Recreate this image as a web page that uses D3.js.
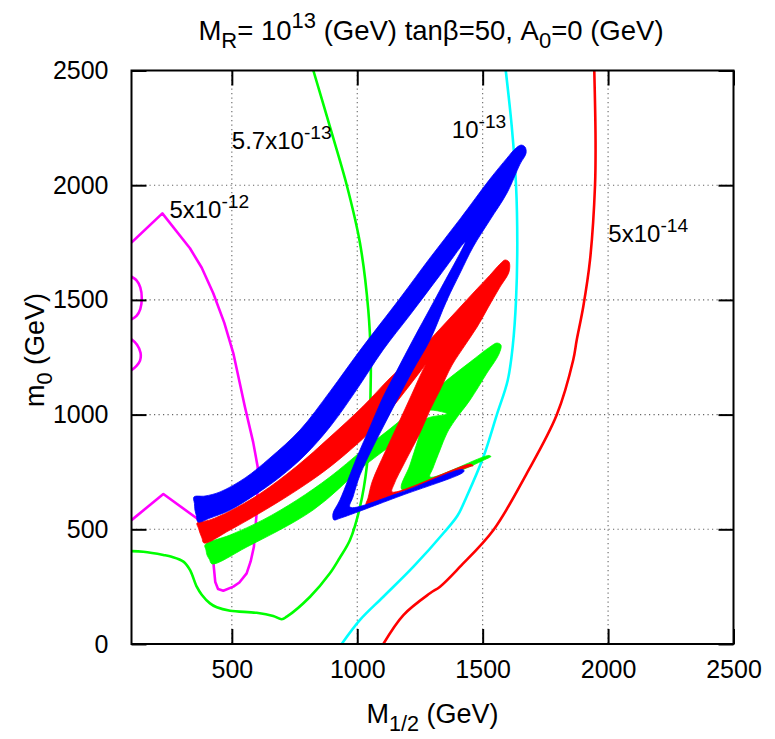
<!DOCTYPE html>
<html>
<head>
<meta charset="utf-8">
<script src="https://cdn.jsdelivr.net/npm/d3@7"></script>
<style>
  body { margin: 0; background: #fff; }
  text { font-family: "Liberation Sans", Arial, Helvetica, sans-serif; fill: #000; }
</style>
</head>
<body>
<div id="chart"></div>
<script>
// ---- data (M1/2 in GeV, m0 in GeV) ----
const xTicks = [500, 1000, 1500, 2000, 2500];
const yTicks = [0, 500, 1000, 1500, 2000, 2500];
const gridX = [500, 1000, 1500, 2000];
const gridY = [500, 1000, 1500, 2000];

// contour 5x10^-12 (magenta)
const magentaMain = [
  [100, 1750], [223, 1877], [333, 1725], [380, 1640], [426, 1529], [470, 1400], [506, 1267],
  [552, 1034], [585, 880], [603, 773], [603, 680], [598, 560], [588, 424], [575, 360], [559, 308],
  [530, 268], [506, 250], [466, 232], [445, 240], [434, 270], [428, 337], [422, 420], [413, 497],
  [360, 548], [227, 654], [100, 540]
];
const magentaLobeA = [[100, 1601], [120, 1585], [135, 1555], [141, 1507], [135, 1460], [120, 1430], [100, 1415]];
const magentaLobeB = [[100, 1328], [122, 1305], [136, 1270], [134, 1235], [120, 1212], [100, 1194]];

// contour 5.7x10^-13 (green)
const greenContour = [
  [825, 2500], [891, 2255], [958, 2001], [1011, 1747], [1044, 1456], [1054, 1238], [1053, 1100],
  [1051, 1007], [1038, 773], [1011, 598], [971, 453], [930, 375], [891, 308], [812, 206], [719, 119],
  [699, 108], [665, 122], [599, 136], [493, 145], [440, 160], [413, 177], [380, 215], [360, 250],
  [333, 323], [307, 359], [260, 380], [227, 388], [147, 402], [100, 405]
];

// contour 10^-13 (cyan)
const cyanContour = [
  [1592, 2500], [1616, 2255], [1633, 2001], [1638, 1747], [1633, 1499], [1620, 1300], [1600, 1150],
  [1556, 998], [1503, 816], [1436, 642], [1400, 560], [1345, 485], [1224, 337], [1104, 206],
  [1011, 105], [938, 0]
];

// contour 5x10^-14 (red)
const redContour = [
  [1945, 2500], [1950, 2200], [1948, 2001], [1928, 1674], [1901, 1470], [1875, 1325], [1861, 1238],
  [1795, 998], [1676, 744], [1543, 497], [1410, 337], [1330, 250], [1290, 221], [1184, 126], [1104, 0]
];

// filled bands (outlines, GeV)
const bandGreen = [
  [393, 432], [493, 475], [624, 541], [760, 628], [891, 728], [1023, 846], [1159, 963], [1250, 1051],
  [1358, 1151], [1450, 1229], [1529, 1295], [1557, 1312], [1573, 1303], [1565, 1264], [1517, 1181],
  [1450, 1064], [1390, 976], [1358, 920], [1330, 846], [1302, 767], [1290, 728], [1525, 822],
  [1533, 817], [1525, 812], [1178, 673], [1210, 780], [1242, 889], [1266, 976], [1358, 1003],
  [1266, 1016], [1222, 946], [1023, 772], [824, 584], [560, 423], [421, 349], [411, 368],
  [401, 388], [397, 410]
];
const bandRed = [
  [361, 527], [413, 541], [493, 580], [612, 655], [760, 776], [891, 902], [1023, 1036], [1131, 1160],
  [1250, 1282], [1370, 1421], [1462, 1530], [1529, 1608], [1569, 1656], [1589, 1674], [1605, 1665],
  [1605, 1622], [1569, 1556], [1521, 1465], [1478, 1382], [1430, 1303], [1378, 1216], [1330, 1107],
  [1290, 1020], [1250, 920], [1190, 793], [1147, 697], [1139, 663], [1454, 784], [1462, 776],
  [1454, 775], [1091, 628], [1035, 606], [1043, 636], [1059, 706], [1111, 837], [1163, 959],
  [1218, 1090], [1270, 1212], [1322, 1303], [1378, 1369], [1250, 1186], [1131, 1020], [1051, 924],
  [891, 772], [760, 671], [612, 571], [493, 497], [389, 440], [381, 462], [373, 484], [367, 505]
];
const bandBlue = [
  [349, 641], [393, 645], [453, 663], [553, 724], [652, 811], [772, 933], [891, 1100], [1011, 1280],
  [1171, 1508], [1290, 1683], [1410, 1853], [1529, 2027], [1597, 2118], [1629, 2158], [1653, 2175],
  [1669, 2166], [1673, 2140], [1649, 2092], [1597, 1966], [1529, 1848], [1462, 1731], [1410, 1617],
  [1358, 1500], [1290, 1325], [1222, 1194], [1159, 1064], [1103, 946], [1051, 833], [1011, 737],
  [983, 641], [971, 597], [1171, 660], [1418, 761], [1426, 755], [1418, 745], [1171, 645],
  [931, 548], [907, 541], [903, 567], [931, 628], [999, 815], [1051, 946], [1103, 1077],
  [1159, 1194], [1222, 1325], [1330, 1543], [1430, 1752], [1330, 1608], [1210, 1434], [1103, 1282],
  [991, 1098], [891, 946], [792, 824], [692, 728], [592, 650], [493, 584], [413, 549], [365, 532],
  [359, 558], [353, 584], [351, 612]
];

// contour labels: mantissa, exponent, position (GeV, GeV)
const contourLabels = [
  { base: '5x10', exp: '-12', m12: 251, m0: 1856 },
  { base: '5.7x10', exp: '-13', m12: 500, m0: 2156 },
  { base: '10', exp: '-13', m12: 1377, m0: 2204 },
  { base: '5x10', exp: '-14', m12: 2001, m0: 1754 }
];

// ---- layout ----
const width = 775, height = 739;
const plot = { left: 131.5, right: 733.5, top: 70.5, bottom: 644 };

const svg = d3.select('#chart').append('svg')
  .attr('width', width)
  .attr('height', height);

const x = d3.scaleLinear().domain([100, 2500]).range([plot.left, plot.right]);
const y = d3.scaleLinear().domain([0, 2500]).range([plot.bottom, plot.top]);

svg.append('clipPath').attr('id', 'plotclip')
  .append('rect')
  .attr('x', plot.left).attr('y', plot.top)
  .attr('width', plot.right - plot.left).attr('height', plot.bottom - plot.top);

// grid
const grid = svg.append('g').attr('class', 'grid')
  .style('stroke', '#666').style('stroke-width', 1.1).style('stroke-dasharray', '1.2,3.3');
grid.selectAll('line.gx').data(gridX).enter().append('line')
  .attr('x1', d => x(d)).attr('x2', d => x(d))
  .attr('y1', plot.top).attr('y2', plot.bottom);
grid.selectAll('line.gy').data(gridY).enter().append('line')
  .attr('x1', plot.left).attr('x2', plot.right)
  .attr('y1', d => y(d)).attr('y2', d => y(d));

const area = svg.append('g').attr('clip-path', 'url(#plotclip)');

const outline = d3.line().x(d => x(d[0])).y(d => y(d[1])).curve(d3.curveCatmullRomClosed.alpha(0.5));
const smooth = d3.line().x(d => x(d[0])).y(d => y(d[1])).curve(d3.curveCatmullRom.alpha(0.5));
const straight = d3.line().x(d => x(d[0])).y(d => y(d[1]));

// contours
const contours = [
  { pts: magentaMain, color: '#ff00ff', gen: straight },
  { pts: magentaLobeA, color: '#ff00ff', gen: smooth },
  { pts: magentaLobeB, color: '#ff00ff', gen: smooth },
  { pts: greenContour, color: '#00ff00', gen: smooth },
  { pts: cyanContour, color: '#00ffff', gen: smooth },
  { pts: redContour, color: '#ff0000', gen: smooth }
];
contours.forEach(function(c) {
  area.append('path')
    .attr('d', c.gen(c.pts))
    .style('fill', 'none')
    .style('stroke', c.color)
    .style('stroke-width', 2.6)
    .style('stroke-linejoin', 'round');
});

// bands: green below red below blue
[[bandGreen, '#00ff00'], [bandRed, '#ff0000'], [bandBlue, '#0000ff']].forEach(function(b) {
  area.append('path')
    .attr('d', outline(b[0]))
    .style('fill', b[1])
    .style('stroke', b[1])
    .style('stroke-width', 0.8)
    .style('stroke-linejoin', 'round');
});

// axes with inward ticks (mirrored)
function styleAxis(g) {
  g.select('.domain').remove();
  g.selectAll('.tick line').style('stroke', '#000').style('stroke-width', 2);
  g.selectAll('.tick text').style('font-size', '25px').style('fill', '#000')
    .style('font-family', '"Liberation Sans", Arial, sans-serif');
}

svg.append('g')
  .attr('transform', 'translate(0,' + plot.bottom + ')')
  .call(d3.axisBottom(x).tickValues(xTicks).tickSize(-15).tickPadding(16).tickFormat(d3.format('d')))
  .call(styleAxis);
svg.append('g')
  .attr('transform', 'translate(0,' + plot.top + ')')
  .call(d3.axisTop(x).tickValues(xTicks).tickSize(-15).tickFormat(''))
  .call(styleAxis);
svg.append('g')
  .attr('transform', 'translate(' + plot.left + ',0)')
  .call(d3.axisLeft(y).tickValues(yTicks).tickSize(-15).tickPadding(23).tickFormat(d3.format('d')))
  .call(styleAxis);
svg.append('g')
  .attr('transform', 'translate(' + plot.right + ',0)')
  .call(d3.axisRight(y).tickValues(yTicks).tickSize(-15).tickFormat(''))
  .call(styleAxis);

// frame
svg.append('rect')
  .attr('x', plot.left).attr('y', plot.top)
  .attr('width', plot.right - plot.left).attr('height', plot.bottom - plot.top)
  .style('fill', 'none').style('stroke', '#000').style('stroke-width', 2);

// rich text helper: parts are [text, shift] with shift 'sub' | 'sup' | null
function richText(sel, parts, size) {
  let offset = 0;
  parts.forEach(function(p) {
    const target = p[1] === 'sup' ? -0.42 * size : p[1] === 'sub' ? 0.3 * size : 0;
    sel.append('tspan')
      .attr('dy', target - offset)
      .style('font-size', (p[1] ? 0.8 * size : size) + 'px')
      .text(p[0]);
    offset = target;
  });
}

// contour labels
contourLabels.forEach(function(l) {
  const t = svg.append('text')
    .attr('x', x(l.m12)).attr('y', y(l.m0))
    .style('font-size', '24px');
  richText(t, [[l.base, null], [l.exp, 'sup']], 24);
});

// title
const title = svg.append('text')
  .attr('x', 431).attr('y', 40)
  .style('text-anchor', 'middle').style('font-size', '27.5px');
richText(title, [['M', null], ['R', 'sub'], ['= 10', null], ['13', 'sup'],
  [' (GeV) tan\u03b2=50, A', null], ['0', 'sub'], ['=0 (GeV)', null]], 27.5);

// axis titles
const xTitle = svg.append('text')
  .attr('x', (plot.left + plot.right) / 2).attr('y', 723)
  .style('text-anchor', 'middle').style('font-size', '27px');
richText(xTitle, [['M', null], ['1/2', 'sub'], [' (GeV)', null]], 27);

const yTitle = svg.append('text')
  .attr('transform', 'translate(44,350) rotate(-90)')
  .style('text-anchor', 'middle').style('font-size', '27px');
richText(yTitle, [['m', null], ['0', 'sub'], [' (GeV)', null]], 27);
</script>
</body>
</html>
